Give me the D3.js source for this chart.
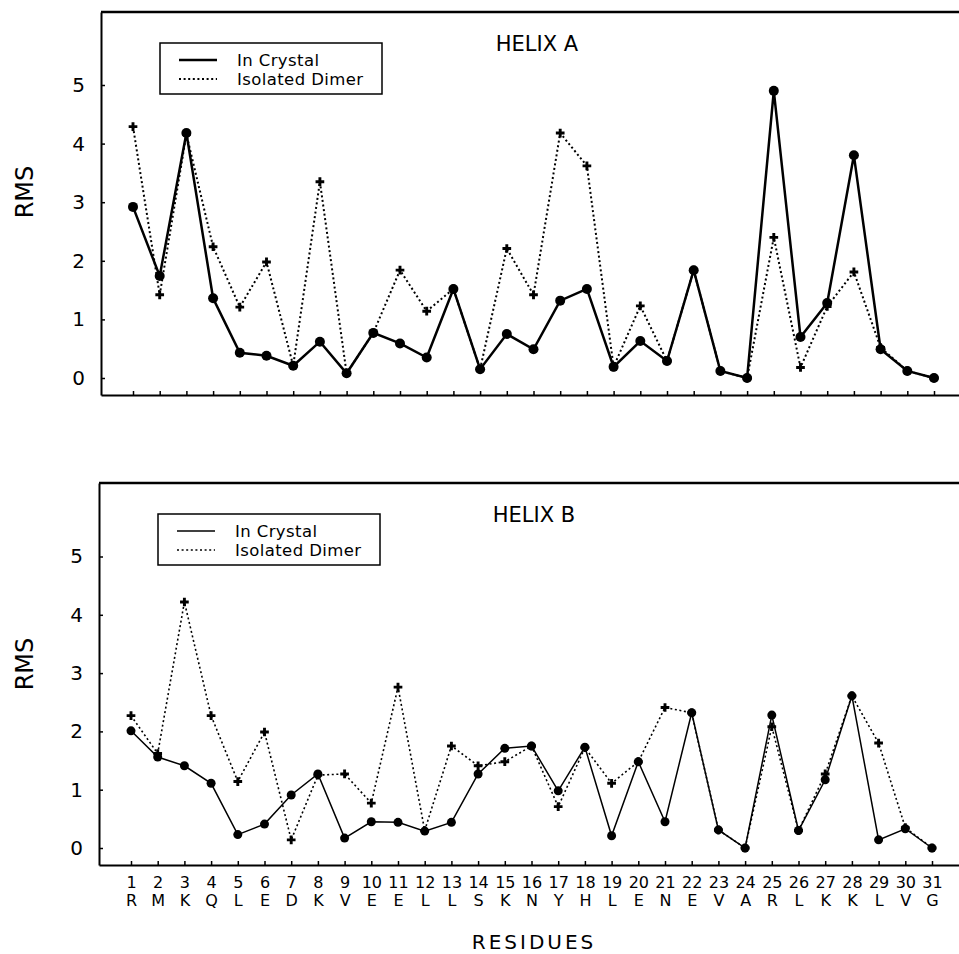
<!DOCTYPE html>
<html>
<head>
<meta charset="utf-8">
<script src="https://cdn.jsdelivr.net/npm/d3@7"></script>
<style>
    html, body { margin: 0; padding: 0; background: #ffffff; }
    svg { display: block; font-family: "DejaVu Sans", sans-serif; }
</style>
</head>
<body>
<svg id="chart" width="959" height="954"></svg>
<script>
// ----------- DATA ------------
// residue positions along the helix
const residueNumbers = d3.range(1, 32);
// one-letter residue codes under the bottom axis
const residueLetters = ["R", "M", "K", "Q", "L", "E", "D", "K", "V", "E", "E", "L", "L", "S", "K", "N",
    "Y", "H", "L", "E", "N", "E", "V", "A", "R", "L", "K", "K", "L", "V", "G"];
const rmsTicks = [0, 1, 2, 3, 4, 5];
const seriesNames = ["In Crystal", "Isolated Dimer"];

// RMS per residue, helix A
const helixACrystal = [2.92, 1.74, 4.18, 1.36, 0.43, 0.38, 0.21, 0.62, 0.08, 0.77, 0.59, 0.35, 1.52, 0.15, 0.75, 0.49,
    1.32, 1.52, 0.19, 0.63, 0.29, 1.84, 0.12, 0.0, 4.90, 0.70, 1.28, 3.80, 0.49, 0.12, 0.0];
const helixADimer = [4.29, 1.42, 4.16, 2.24, 1.21, 1.98, 0.21, 3.35, 0.08, 0.77, 1.84, 1.14, 1.52, 0.15, 2.21, 1.42,
    4.18, 3.62, 0.19, 1.23, 0.29, 1.84, 0.12, 0.0, 2.40, 0.18, 1.22, 1.81, 0.52, 0.12, 0.0];

// RMS per residue, helix B
const helixBCrystal = [2.01, 1.56, 1.41, 1.11, 0.23, 0.41, 0.91, 1.27, 0.17, 0.45, 0.44, 0.29, 0.44, 1.27, 1.71, 1.75,
    0.98, 1.73, 0.21, 1.48, 0.45, 2.32, 0.31, 0.0, 2.28, 0.30, 1.17, 2.61, 0.14, 0.33, 0.0];
const helixBDimer = [2.27, 1.62, 4.22, 2.27, 1.14, 1.99, 0.14, 1.25, 1.27, 0.77, 2.76, 0.30, 1.75, 1.41, 1.48, 1.75,
    0.71, 1.72, 1.11, 1.48, 2.41, 2.32, 0.31, 0.0, 2.08, 0.30, 1.27, 2.61, 1.80, 0.35, 0.0];

// ----------- LAYOUT ------------
const WIDTH = 959;
const svg = d3.select("#chart");

const panels = [
    {
        title: "HELIX A", crystal: helixACrystal, dimer: helixADimer,
        left: 101, top: 12, bottom: 395, x1: 133, x31: 934, y0: 378, y5: 85,
        solidWidth: 2.5, dotWidth: 2, radius: 5, titleX: 537, rmsY: 192, showLabels: false
    },
    {
        title: "HELIX B", crystal: helixBCrystal, dimer: helixBDimer,
        left: 99, top: 483, bottom: 865, x1: 131, x31: 932, y0: 848, y5: 556.5,
        solidWidth: 1.5, dotWidth: 1.6, radius: 4.5, titleX: 534, rmsY: 664, showLabels: true
    }
];

const drawPanel = (p) => {
    const g = svg.append("g");

    const x = d3.scaleLinear().domain([1, 31]).range([p.x1, p.x31]);
    const y = d3.scaleLinear().domain([0, 5]).range([p.y0, p.y5]);
    // axis scales stretched to the frame edges
    const xAxisScale = d3.scaleLinear()
        .domain([x.invert(p.left), x.invert(WIDTH + 5)])
        .range([p.left, WIDTH + 5]);
    const yAxisScale = d3.scaleLinear()
        .domain([y.invert(p.bottom), y.invert(p.top)])
        .range([p.bottom, p.top]);

    // top frame line
    g.append("line")
        .attr("x1", p.left).attr("x2", WIDTH + 5)
        .attr("y1", p.top).attr("y2", p.top)
        .attr("stroke", "#000").attr("stroke-width", 2.5);

    // left axis
    const yAxis = g.append("g")
        .attr("transform", `translate(${p.left},0)`)
        .call(d3.axisLeft(yAxisScale).tickValues(rmsTicks).tickFormat(d3.format("d"))
            .tickSizeInner(-4).tickSizeOuter(0).tickPadding(16));
    yAxis.select(".domain").attr("stroke-width", 2);
    yAxis.selectAll(".tick line").attr("stroke-width", 1.5);
    yAxis.selectAll(".tick text").attr("font-size", 20).attr("fill", "#000")
        .attr("font-family", "DejaVu Sans, sans-serif");

    // bottom axis
    const xAxis = g.append("g")
        .attr("transform", `translate(0,${p.bottom})`)
        .call(d3.axisBottom(xAxisScale).tickValues(residueNumbers).tickSizeInner(-4).tickSizeOuter(0)
            .tickPadding(12).tickFormat(d => p.showLabels ? d : ""));
    xAxis.select(".domain").attr("stroke-width", 2);
    xAxis.selectAll(".tick line").attr("stroke-width", 1.5);
    xAxis.selectAll(".tick text").attr("font-size", 16).attr("fill", "#000")
        .attr("font-family", "DejaVu Sans, sans-serif");
    if (p.showLabels) {
        xAxis.selectAll(".tick")
            .append("text")
            .attr("y", 41)
            .attr("fill", "#000")
            .attr("font-size", 16)
            .attr("font-family", "DejaVu Sans, sans-serif")
            .text((d, i) => residueLetters[i]);
    }

    // y label
    g.append("text")
        .attr("transform", `translate(33,${p.rmsY}) rotate(-90)`)
        .attr("text-anchor", "middle")
        .attr("font-size", 24)
        .text("RMS");

    // title
    g.append("text")
        .attr("x", p.titleX)
        .attr("y", p.top + 39)
        .attr("text-anchor", "middle")
        .attr("font-size", 21)
        .text(p.title);

    // dimer series: dotted line and plus markers
    const line = d3.line().x((d, i) => x(residueNumbers[i])).y(d => y(d));
    g.append("path")
        .datum(p.dimer)
        .attr("d", line)
        .attr("fill", "none")
        .attr("stroke", "#000")
        .attr("stroke-width", p.dotWidth)
        .attr("stroke-dasharray", "2,2.6");
    g.selectAll(".plus")
        .data(p.dimer)
        .join("path")
        .attr("class", "plus")
        .attr("transform", (d, i) => `translate(${x(residueNumbers[i])},${y(d)})`)
        .attr("d", d3.symbol().type(d3.symbolCross).size(42))
        .attr("fill", "#000");

    // crystal series: solid line and filled dots
    g.append("path")
        .datum(p.crystal)
        .attr("d", line)
        .attr("fill", "none")
        .attr("stroke", "#000")
        .attr("stroke-width", p.solidWidth);
    g.selectAll(".dot")
        .data(p.crystal)
        .join("circle")
        .attr("class", "dot")
        .attr("cx", (d, i) => x(residueNumbers[i]))
        .attr("cy", d => y(d))
        .attr("r", p.radius)
        .attr("fill", "#000");

    // legend
    const legend = g.append("g").attr("transform", `translate(${p.left + 59},${p.top + 31})`);
    legend.append("rect")
        .attr("width", 222).attr("height", 51)
        .attr("fill", "#fff").attr("stroke", "#000").attr("stroke-width", 1.5);
    seriesNames.forEach((name, i) => {
        legend.append("line")
            .attr("x1", 19).attr("x2", 57)
            .attr("y1", 17 + i * 19).attr("y2", 17 + i * 19)
            .attr("stroke", "#000")
            .attr("stroke-width", i === 0 ? p.solidWidth : p.dotWidth)
            .attr("stroke-dasharray", i === 0 ? null : "2,2.6");
        legend.append("text")
            .attr("x", 77)
            .attr("y", 23 + i * 19)
            .attr("font-size", 16.5)
            .attr("letter-spacing", 0.4)
            .text(name);
    });
}

panels.forEach(drawPanel);

// x label
svg.append("text")
    .attr("x", 534)
    .attr("y", 949)
    .attr("text-anchor", "middle")
    .attr("font-size", 20)
    .attr("letter-spacing", 3)
    .text("RESIDUES");
</script>
</body>
</html>
